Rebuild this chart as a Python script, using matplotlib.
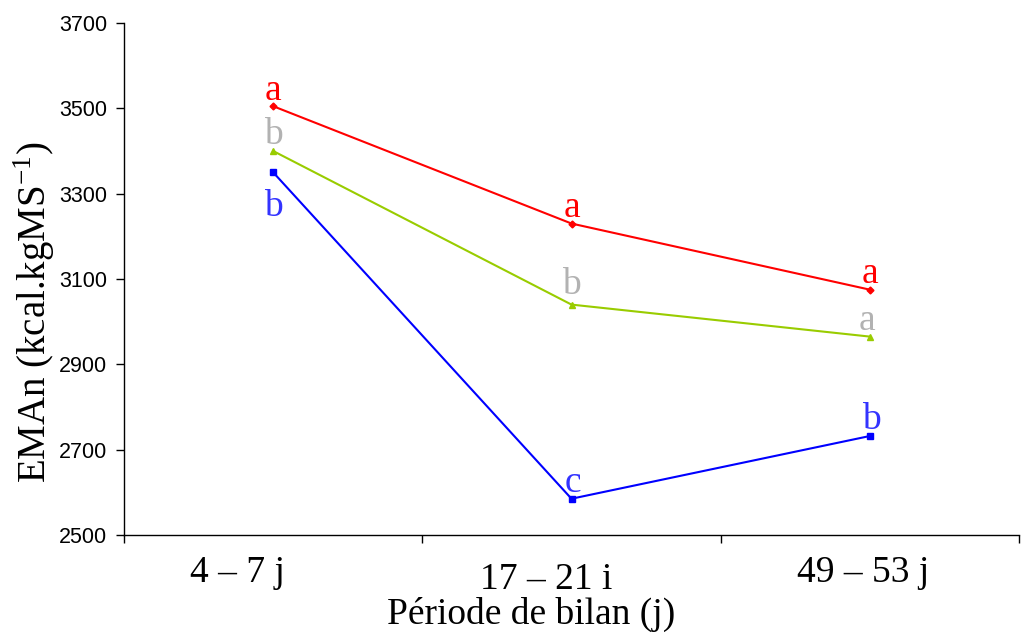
import matplotlib
matplotlib.use("Agg")
import matplotlib.pyplot as plt
from matplotlib.ticker import FixedLocator
from matplotlib.transforms import ScaledTranslation

categories = ["4 – 7 j", "17 – 21 i", "49 – 53 j"]
red_vals = [3505, 3230, 3075]
green_vals = [3400, 3040, 2965]
blue_vals = [3350, 2585, 2732]
red_letters = ["a", "a", "a"]
green_letters = ["b", "b", "a"]
blue_letters = ["b", "c", "b"]
yticks = [2500, 2700, 2900, 3100, 3300, 3500, 3700]

fig = plt.figure(figsize=(10.21, 6.44), dpi=100)
ax = fig.add_axes([124/1021, 1-535/644, (1019-124)/1021, (535-23)/644])

x = [0, 1, 2]
ax.plot(x, red_vals, color="#ff0000", lw=1.5, marker="D", ms=3.5)
ax.plot(x, green_vals, color="#99cc00", lw=1.5, marker="^", ms=5)
ax.plot(x, blue_vals, color="#0000ff", lw=1.5, marker="s", ms=4.5)

serif = "Liberation Serif"
lsize = 27
green_off = [(0, -1), (0, 2), (-2, -1)]
for i in x:
    ax.annotate(red_letters[i], (i, red_vals[i]), xytext=(0, -1), textcoords="offset points",
                ha="center", va="bottom", color="#ff0000", fontsize=lsize, family=serif)
    ax.annotate(green_letters[i], (i, green_vals[i]), xytext=green_off[i], textcoords="offset points",
                ha="center", va="bottom", color="#b2b2b2", fontsize=lsize, family=serif)
    if i == 0:
        ax.annotate(blue_letters[i], (i, blue_vals[i]), xytext=(0, -12), textcoords="offset points",
                    ha="center", va="top", color="#3333ff", fontsize=lsize, family=serif)
    else:
        ax.annotate(blue_letters[i], (i, blue_vals[i]), xytext=(1, -1), textcoords="offset points",
                    ha="center", va="bottom", color="#3333ff", fontsize=lsize, family=serif)

ax.set_xlim(-0.5, 2.5)
ax.set_ylim(2500, 3700)
ax.set_yticks(yticks)
ax.set_yticklabels([str(v) for v in yticks], family="Liberation Sans", fontsize=15.5)
ax.set_xticks(x)
ax.set_xticklabels(categories, family=serif, fontsize=27)
ax.xaxis.set_minor_locator(FixedLocator([-0.5, 0.5, 1.5, 2.5]))
ax.tick_params(axis="x", which="major", length=0, pad=20)
ax.tick_params(axis="x", which="minor", length=6, width=1, color="black", direction="out")
ax.tick_params(axis="y", length=6, width=1, direction="out", pad=6)

for s in ["top", "right"]:
    ax.spines[s].set_visible(False)
for s in ["left", "bottom"]:
    ax.spines[s].set_linewidth(1)

ax.set_xlabel("Période de bilan (j)", family=serif, fontsize=27)
ax.xaxis.set_label_coords((531 - 124) / 895, -(597 - 535) / 512)
ax.set_ylabel("EMAn (kcal.kgMS$^{\\mathregular{-1}}$)", family=serif, fontsize=28)
ax.yaxis.set_label_coords(-(124 - 57) / 895, (535 - 312) / 512)

# per-label pixel offsets (as in the original layout)
label_shift_px = [(-36, 7), (-25, 0), (-7, 7)]
for lab, (dx, dy) in zip(ax.get_xticklabels(), label_shift_px):
    lab.set_transform(lab.get_transform() + ScaledTranslation(dx / 100, dy / 100, fig.dpi_scale_trans))

fig.savefig("out.png", dpi=100)
